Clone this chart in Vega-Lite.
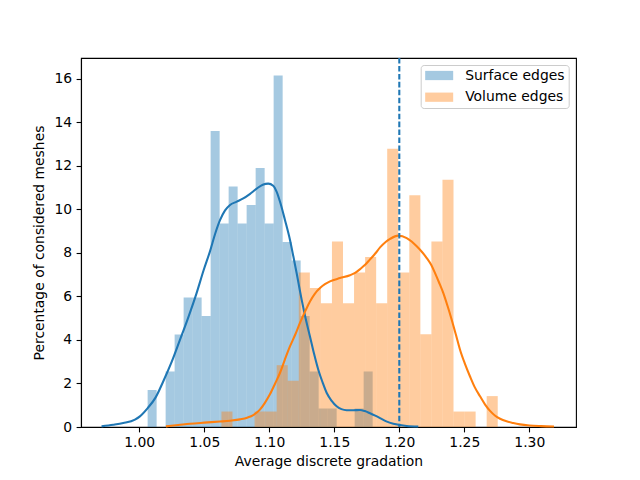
{
  "$schema": "https://vega.github.io/schema/vega-lite/v6.json",
  "autosize": {"type": "none"},
  "padding": {"left": 81, "top": 58, "right": 64, "bottom": 53},
  "width": 495,
  "height": 369,
  "config": {
    "view": {"stroke": "black", "strokeWidth": 1.1},
    "font": "DejaVu Sans",
    "axis": {
      "labelFont": "DejaVu Sans", "labelFontSize": 13.9, "labelColor": "black",
      "titleFont": "DejaVu Sans", "titleFontSize": 13.9, "titleFontWeight": "normal", "titleColor": "black",
      "tickColor": "black", "tickSize": 4.9, "tickWidth": 1.1,
      "domainColor": "black", "domainWidth": 1.1, "grid": false, "labelPadding": 3.5, "titlePadding": 5
    }
  },
  "datasets": {
    "bars": [
      {"series": "Surface edges", "x0": 1.00644, "x1": 1.01336, "h": 1.7},
      {"series": "Surface edges", "x0": 1.02029, "x1": 1.02721, "h": 2.55},
      {"series": "Surface edges", "x0": 1.02721, "x1": 1.03413, "h": 4.25},
      {"series": "Surface edges", "x0": 1.03413, "x1": 1.04106, "h": 5.95},
      {"series": "Surface edges", "x0": 1.04106, "x1": 1.04798, "h": 5.95},
      {"series": "Surface edges", "x0": 1.04798, "x1": 1.0549, "h": 5.1},
      {"series": "Surface edges", "x0": 1.0549, "x1": 1.06182, "h": 13.6},
      {"series": "Surface edges", "x0": 1.06182, "x1": 1.06875, "h": 9.35},
      {"series": "Surface edges", "x0": 1.06875, "x1": 1.07567, "h": 11.05},
      {"series": "Surface edges", "x0": 1.07567, "x1": 1.08259, "h": 9.35},
      {"series": "Surface edges", "x0": 1.08259, "x1": 1.08952, "h": 10.2},
      {"series": "Surface edges", "x0": 1.08952, "x1": 1.09644, "h": 11.9},
      {"series": "Surface edges", "x0": 1.09644, "x1": 1.10336, "h": 9.35},
      {"series": "Surface edges", "x0": 1.10336, "x1": 1.11029, "h": 16.15},
      {"series": "Surface edges", "x0": 1.11029, "x1": 1.11721, "h": 8.5},
      {"series": "Surface edges", "x0": 1.11721, "x1": 1.12413, "h": 7.65},
      {"series": "Surface edges", "x0": 1.12413, "x1": 1.13105, "h": 5.1},
      {"series": "Surface edges", "x0": 1.13105, "x1": 1.13798, "h": 2.55},
      {"series": "Surface edges", "x0": 1.13798, "x1": 1.1449, "h": 0.85},
      {"series": "Surface edges", "x0": 1.1449, "x1": 1.15182, "h": 0.85},
      {"series": "Surface edges", "x0": 1.16567, "x1": 1.17259, "h": 0.85},
      {"series": "Surface edges", "x0": 1.17259, "x1": 1.17952, "h": 2.55},
      {"series": "Volume edges", "x0": 1.0632, "x1": 1.0717, "h": 0.71},
      {"series": "Volume edges", "x0": 1.0887, "x1": 1.0972, "h": 0.71},
      {"series": "Volume edges", "x0": 1.0972, "x1": 1.1057, "h": 0.71},
      {"series": "Volume edges", "x0": 1.1057, "x1": 1.1142, "h": 2.84},
      {"series": "Volume edges", "x0": 1.1142, "x1": 1.1227, "h": 2.13},
      {"series": "Volume edges", "x0": 1.1227, "x1": 1.1312, "h": 7.1},
      {"series": "Volume edges", "x0": 1.1312, "x1": 1.1397, "h": 6.39},
      {"series": "Volume edges", "x0": 1.1397, "x1": 1.1482, "h": 5.68},
      {"series": "Volume edges", "x0": 1.1482, "x1": 1.1567, "h": 8.52},
      {"series": "Volume edges", "x0": 1.1567, "x1": 1.1652, "h": 5.68},
      {"series": "Volume edges", "x0": 1.1652, "x1": 1.1737, "h": 7.1},
      {"series": "Volume edges", "x0": 1.1737, "x1": 1.1822, "h": 7.81},
      {"series": "Volume edges", "x0": 1.1822, "x1": 1.1907, "h": 5.68},
      {"series": "Volume edges", "x0": 1.1907, "x1": 1.1992, "h": 12.78},
      {"series": "Volume edges", "x0": 1.1992, "x1": 1.2077, "h": 7.1},
      {"series": "Volume edges", "x0": 1.2077, "x1": 1.2162, "h": 10.65},
      {"series": "Volume edges", "x0": 1.2162, "x1": 1.2247, "h": 4.26},
      {"series": "Volume edges", "x0": 1.2247, "x1": 1.2332, "h": 8.52},
      {"series": "Volume edges", "x0": 1.2332, "x1": 1.2417, "h": 11.36},
      {"series": "Volume edges", "x0": 1.2417, "x1": 1.2502, "h": 0.71},
      {"series": "Volume edges", "x0": 1.2502, "x1": 1.2587, "h": 0.71},
      {"series": "Volume edges", "x0": 1.2672, "x1": 1.2757, "h": 1.42}
    ],
    "kde": [
      {"series": "Surface edges", "x": 0.971, "y": 0.03},
      {"series": "Surface edges", "x": 0.98, "y": 0.1},
      {"series": "Surface edges", "x": 0.9877, "y": 0.18},
      {"series": "Surface edges", "x": 0.9967, "y": 0.34},
      {"series": "Surface edges", "x": 1.0005, "y": 0.49},
      {"series": "Surface edges", "x": 1.0065, "y": 0.87},
      {"series": "Surface edges", "x": 1.0125, "y": 1.35},
      {"series": "Surface edges", "x": 1.0185, "y": 2.1},
      {"series": "Surface edges", "x": 1.025, "y": 3.0},
      {"series": "Surface edges", "x": 1.0313, "y": 4.0},
      {"series": "Surface edges", "x": 1.0378, "y": 5.05},
      {"series": "Surface edges", "x": 1.0441, "y": 6.15},
      {"series": "Surface edges", "x": 1.0495, "y": 7.2},
      {"series": "Surface edges", "x": 1.0544, "y": 8.07},
      {"series": "Surface edges", "x": 1.0585, "y": 8.9},
      {"series": "Surface edges", "x": 1.0621, "y": 9.5},
      {"series": "Surface edges", "x": 1.066, "y": 9.95},
      {"series": "Surface edges", "x": 1.0698, "y": 10.2},
      {"series": "Surface edges", "x": 1.075, "y": 10.35},
      {"series": "Surface edges", "x": 1.08, "y": 10.5},
      {"series": "Surface edges", "x": 1.085, "y": 10.7},
      {"series": "Surface edges", "x": 1.0903, "y": 10.95},
      {"series": "Surface edges", "x": 1.095, "y": 11.13},
      {"series": "Surface edges", "x": 1.0992, "y": 11.18},
      {"series": "Surface edges", "x": 1.103, "y": 11.08},
      {"series": "Surface edges", "x": 1.1057, "y": 10.8},
      {"series": "Surface edges", "x": 1.1085, "y": 10.3},
      {"series": "Surface edges", "x": 1.1121, "y": 9.5},
      {"series": "Surface edges", "x": 1.1159, "y": 8.6},
      {"series": "Surface edges", "x": 1.1185, "y": 7.84},
      {"series": "Surface edges", "x": 1.1211, "y": 7.05},
      {"series": "Surface edges", "x": 1.1249, "y": 5.85},
      {"series": "Surface edges", "x": 1.1281, "y": 4.95},
      {"series": "Surface edges", "x": 1.1313, "y": 4.16},
      {"series": "Surface edges", "x": 1.1345, "y": 3.35},
      {"series": "Surface edges", "x": 1.1377, "y": 2.63},
      {"series": "Surface edges", "x": 1.141, "y": 2.05},
      {"series": "Surface edges", "x": 1.1442, "y": 1.56},
      {"series": "Surface edges", "x": 1.148, "y": 1.2},
      {"series": "Surface edges", "x": 1.1518, "y": 0.95},
      {"series": "Surface edges", "x": 1.1555, "y": 0.82},
      {"series": "Surface edges", "x": 1.1595, "y": 0.77},
      {"series": "Surface edges", "x": 1.1645, "y": 0.77},
      {"series": "Surface edges", "x": 1.1698, "y": 0.78},
      {"series": "Surface edges", "x": 1.1735, "y": 0.73},
      {"series": "Surface edges", "x": 1.1775, "y": 0.63},
      {"series": "Surface edges", "x": 1.1815, "y": 0.52},
      {"series": "Surface edges", "x": 1.1852, "y": 0.41},
      {"series": "Surface edges", "x": 1.19, "y": 0.26},
      {"series": "Surface edges", "x": 1.1954, "y": 0.15},
      {"series": "Surface edges", "x": 1.2005, "y": 0.09},
      {"series": "Surface edges", "x": 1.2057, "y": 0.05},
      {"series": "Surface edges", "x": 1.2146, "y": 0.02},
      {"series": "Volume edges", "x": 1.0205, "y": 0.03},
      {"series": "Volume edges", "x": 1.03, "y": 0.09},
      {"series": "Volume edges", "x": 1.039, "y": 0.15},
      {"series": "Volume edges", "x": 1.05, "y": 0.2},
      {"series": "Volume edges", "x": 1.0621, "y": 0.25},
      {"series": "Volume edges", "x": 1.07, "y": 0.29},
      {"series": "Volume edges", "x": 1.0775, "y": 0.35},
      {"series": "Volume edges", "x": 1.0835, "y": 0.44},
      {"series": "Volume edges", "x": 1.0877, "y": 0.55},
      {"series": "Volume edges", "x": 1.0928, "y": 0.8},
      {"series": "Volume edges", "x": 1.0965, "y": 1.1},
      {"series": "Volume edges", "x": 1.1005, "y": 1.5},
      {"series": "Volume edges", "x": 1.1045, "y": 2.0},
      {"series": "Volume edges", "x": 1.1082, "y": 2.48},
      {"series": "Volume edges", "x": 1.112, "y": 3.1},
      {"series": "Volume edges", "x": 1.1159, "y": 3.7},
      {"series": "Volume edges", "x": 1.12, "y": 4.25},
      {"series": "Volume edges", "x": 1.1236, "y": 4.78},
      {"series": "Volume edges", "x": 1.1275, "y": 5.3},
      {"series": "Volume edges", "x": 1.1313, "y": 5.77},
      {"series": "Volume edges", "x": 1.135, "y": 6.12},
      {"series": "Volume edges", "x": 1.139, "y": 6.38},
      {"series": "Volume edges", "x": 1.1428, "y": 6.56},
      {"series": "Volume edges", "x": 1.1467, "y": 6.69},
      {"series": "Volume edges", "x": 1.1544, "y": 6.84},
      {"series": "Volume edges", "x": 1.1621, "y": 6.97},
      {"series": "Volume edges", "x": 1.166, "y": 7.08},
      {"series": "Volume edges", "x": 1.1698, "y": 7.25},
      {"series": "Volume edges", "x": 1.1737, "y": 7.45},
      {"series": "Volume edges", "x": 1.1775, "y": 7.7},
      {"series": "Volume edges", "x": 1.1815, "y": 7.97},
      {"series": "Volume edges", "x": 1.1852, "y": 8.25},
      {"series": "Volume edges", "x": 1.1895, "y": 8.5},
      {"series": "Volume edges", "x": 1.1929, "y": 8.64},
      {"series": "Volume edges", "x": 1.1992, "y": 8.79},
      {"series": "Volume edges", "x": 1.2057, "y": 8.68},
      {"series": "Volume edges", "x": 1.2095, "y": 8.52},
      {"series": "Volume edges", "x": 1.2134, "y": 8.3},
      {"series": "Volume edges", "x": 1.2173, "y": 8.05},
      {"series": "Volume edges", "x": 1.2211, "y": 7.76},
      {"series": "Volume edges", "x": 1.2245, "y": 7.45},
      {"series": "Volume edges", "x": 1.2275, "y": 7.07},
      {"series": "Volume edges", "x": 1.2305, "y": 6.65},
      {"series": "Volume edges", "x": 1.2338, "y": 6.16},
      {"series": "Volume edges", "x": 1.237, "y": 5.58},
      {"series": "Volume edges", "x": 1.2403, "y": 4.93},
      {"series": "Volume edges", "x": 1.2435, "y": 4.25},
      {"series": "Volume edges", "x": 1.2467, "y": 3.55},
      {"series": "Volume edges", "x": 1.2505, "y": 2.9},
      {"series": "Volume edges", "x": 1.2544, "y": 2.32},
      {"series": "Volume edges", "x": 1.258, "y": 1.83},
      {"series": "Volume edges", "x": 1.2621, "y": 1.41},
      {"series": "Volume edges", "x": 1.266, "y": 1.03},
      {"series": "Volume edges", "x": 1.2698, "y": 0.74},
      {"series": "Volume edges", "x": 1.2735, "y": 0.53},
      {"series": "Volume edges", "x": 1.2775, "y": 0.38},
      {"series": "Volume edges", "x": 1.2825, "y": 0.26},
      {"series": "Volume edges", "x": 1.2877, "y": 0.18},
      {"series": "Volume edges", "x": 1.2928, "y": 0.12},
      {"series": "Volume edges", "x": 1.3, "y": 0.07},
      {"series": "Volume edges", "x": 1.309, "y": 0.04},
      {"series": "Volume edges", "x": 1.319, "y": 0.02}
    ],
    "threshold": [{"x": 1.2}]
  },
  "layer": [
    {
      "data": {"name": "bars"},
      "mark": {"type": "rect", "fillOpacity": 0.4, "strokeWidth": 0},
      "encoding": {
        "x": {"field": "x0", "type": "quantitative",
              "scale": {"domain": [0.9552, 1.3359], "nice": false, "zero": false},
              "axis": {"values": [1.0, 1.05, 1.1, 1.15, 1.2, 1.25, 1.3], "format": ".2f", "title": "Average discrete gradation"}},
        "x2": {"field": "x1"},
        "y": {"field": "h", "type": "quantitative",
              "scale": {"domain": [0, 16.95], "nice": false},
              "axis": {"values": [0, 2, 4, 6, 8, 10, 12, 14, 16], "title": "Percentage of considered meshes", "labelPadding": 4.5, "titlePadding": 7}},
        "y2": {"datum": 0},
        "color": {"field": "series", "type": "nominal",
                  "scale": {"domain": ["Surface edges", "Volume edges"], "range": ["#1f77b4", "#ff7f0e"]},
                  "legend": {
                    "title": null, "orient": "none", "legendX": 339.7, "legendY": 7,
                    "padding": 3.5, "strokeColor": "#cccccc", "fillColor": "rgba(255,255,255,0.8)", "cornerRadius": 3,
                    "symbolType": "M-0.86,-0.66H3.14V0.66H-0.86Z", "symbolSize": 196, "symbolOpacity": 0.4, "symbolStrokeWidth": 0,
                    "labelFont": "DejaVu Sans", "labelFontSize": 13.9, "labelColor": "black", "labelOffset": 27, "rowPadding": 7.7
                  }}
      }
    },
    {
      "data": {"name": "kde"},
      "mark": {"type": "line", "strokeWidth": 2.08, "interpolate": "monotone"},
      "encoding": {
        "x": {"field": "x", "type": "quantitative"},
        "y": {"field": "y", "type": "quantitative"},
        "stroke": {"field": "series", "type": "nominal",
                   "scale": {"domain": ["Surface edges", "Volume edges"], "range": ["#1f77b4", "#ff7f0e"]},
                   "legend": null}
      }
    },
    {
      "data": {"name": "threshold"},
      "mark": {"type": "rule", "color": "#1f77b4", "strokeWidth": 2.08, "strokeDash": [5.55, 2.4]},
      "encoding": {
        "x": {"field": "x", "type": "quantitative"}
      }
    }
  ]
}
